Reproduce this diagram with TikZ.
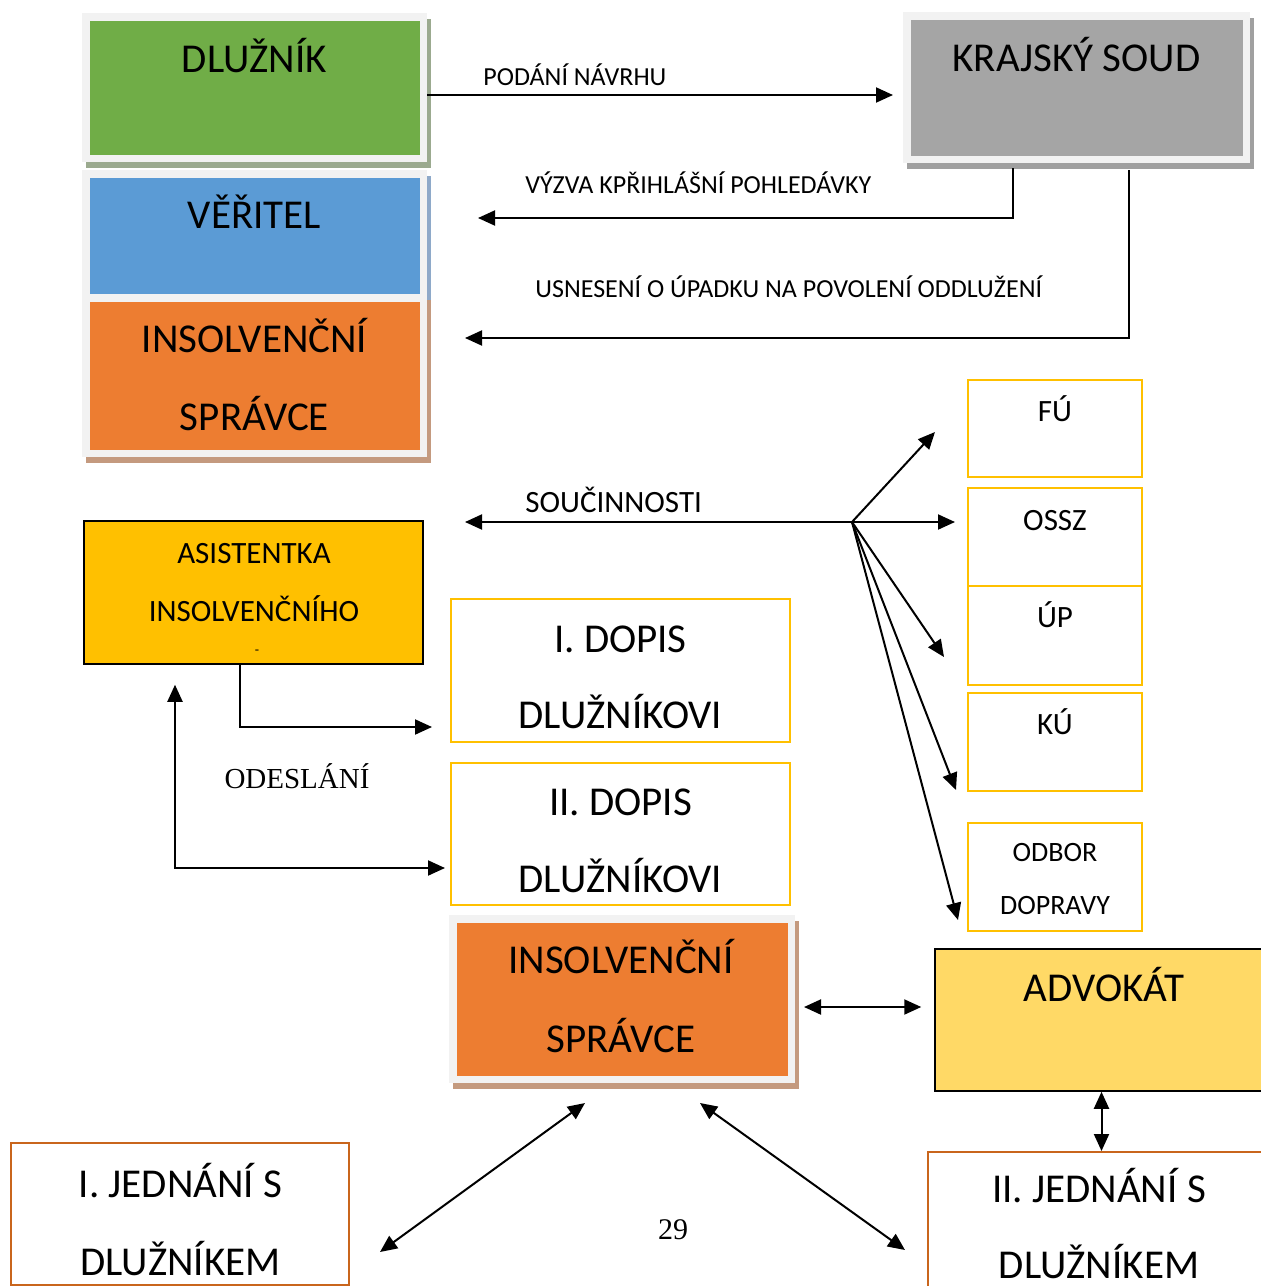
\documentclass[tikz,border=0pt]{standalone}
\usepackage{fontspec}
\setmainfont{Carlito}
\newfontfamily\patkove{Liberation Serif}
\usepackage{tikz}
\usetikzlibrary{arrows.meta}
\usetikzlibrary{shadows}

\definecolor{ramecseda}{HTML}{F2F2F2}
\definecolor{zelena}{HTML}{70AD47}
\definecolor{zelenastin}{HTML}{9BAA8F}
\definecolor{modra}{HTML}{5B9BD5}
\definecolor{modrastin}{HTML}{8EA9C9}
\definecolor{oranzova}{HTML}{ED7D31}
\definecolor{oranzstin}{HTML}{C49A7F}
\definecolor{seda}{HTML}{A5A5A5}
\definecolor{sedastin}{HTML}{A0A0A0}
\definecolor{zlutaobr}{HTML}{FFC000}
\definecolor{asistfill}{HTML}{FFC000}
\definecolor{advfill}{HTML}{FFD966}
\definecolor{oranzobr}{HTML}{C9651C}

\begin{document}
\begin{tikzpicture}[x=0.5pt,y=-0.5pt,
    >={Triangle[length=8.5pt,width=7.5pt]},
    ramec/.style={draw=ramecseda,line width=3.75pt,fill=#1,inner sep=0pt},
    stin/.style={general shadow={fill=#1,draw=#1,line width=3.75pt,shadow xshift=2pt,shadow yshift=-3pt}},
    zluty/.style={draw=zlutaobr,line width=1pt,inner sep=0pt},
    cerny/.style={draw=black,line width=0.75pt,fill=#1,inner sep=0pt},
    oranz/.style={draw=oranzobr,line width=1pt,fill=white,inner sep=0pt},
    sip/.style={line width=1pt},
    velky/.style={font=\fontsize{20.5}{24}\selectfont,anchor=base,inner sep=0pt},
    stredni/.style={font=\fontsize{15.5}{18}\selectfont,anchor=base,inner sep=0pt},
    maly/.style={font=\fontsize{14}{16}\selectfont,anchor=base,inner sep=0pt},
    popis/.style={font=\fontsize{13}{15}\selectfont,anchor=base west,inner sep=0pt},
    patka/.style={font=\patkove\fontsize{15}{18}\selectfont,anchor=base,inner sep=0pt}]

    \useasboundingbox (0,0) rectangle (1261,1286);
    \clip (0,0) rectangle (1261,1286);

    \node[ramec=zelena,stin=zelenastin,minimum width=168.75pt,minimum height=70.75pt] (dl) at (254.5,87.5) {};
    \node[ramec=modra,stin=modrastin,minimum width=168.75pt,minimum height=61.75pt] (ve) at (254.5,235.5) {};
    \node[ramec=oranzova,stin=oranzstin,minimum width=168.75pt,minimum height=77.75pt] (is) at (254.5,375.5) {};
    \node[ramec=seda,stin=sedastin,minimum width=169.75pt,minimum height=71.75pt] (ks) at (1076.5,87.5) {};
    \node[cerny=asistfill,minimum width=169.5pt,minimum height=71.5pt] (as) at (253.5,592.5) {};
    \node[zluty,minimum width=169.5pt,minimum height=71.5pt] (d1) at (620.5,670.5) {};
    \node[zluty,minimum width=169.5pt,minimum height=71pt] (d2) at (620.5,834) {};
    \node[zluty,minimum width=87pt,minimum height=48.5pt] (fu) at (1055,428.5) {};
    \node[zluty,minimum width=87pt,minimum height=49pt] (os) at (1055,537) {};
    \node[zluty,minimum width=87pt,minimum height=49.5pt] (up) at (1055,635.5) {};
    \node[zluty,minimum width=87pt,minimum height=49pt] (ku) at (1055,742) {};
    \node[zluty,minimum width=87pt,minimum height=54pt] (od) at (1055,877) {};
    \node[ramec=oranzova,stin=oranzstin,minimum width=169.25pt,minimum height=80.25pt] (is2) at (622,999) {};
    \node[cerny=advfill,minimum width=177.5pt,minimum height=71pt] (adv) at (1112.5,1020) {};
    \node[oranz,minimum width=169pt,minimum height=71pt] (j1) at (180,1214) {};
    \node[oranz,minimum width=173.5pt,minimum height=74pt] (j2) at (1101.5,1226) {};

    \node[velky] (dlT) at (254.5,72) {DLUŽNÍK};
    \node[velky] (veT) at (254.5,228) {VĚŘITEL};
    \node[velky] (isT1) at (254.5,352) {INSOLVENČNÍ};
    \node[velky] (isT2) at (254.5,430) {SPRÁVCE};
    \node[velky] (ksT) at (1076.5,71) {KRAJSKÝ SOUD};
    \node[stredni] (asT1) at (254,563) {ASISTENTKA};
    \node[stredni] (asT2) at (254,621) {INSOLVENČNÍHO};
    \node[font=\fontsize{7}{8}\selectfont,anchor=base,inner sep=0pt] (asT3) at (257,654) {-};
    \node[velky] (d1T1) at (620.5,652) {I. DOPIS};
    \node[velky] (d1T2) at (620.5,728) {DLUŽNÍKOVI};
    \node[velky] (d2T1) at (620.5,815) {II. DOPIS};
    \node[velky] (d2T2) at (620.5,892) {DLUŽNÍKOVI};
    \node[stredni] (fuT) at (1055,421) {FÚ};
    \node[stredni] (osT) at (1055,530) {OSSZ};
    \node[stredni] (upT) at (1055,627) {ÚP};
    \node[stredni] (kuT) at (1055,734) {KÚ};
    \node[maly] (odT1) at (1055,861) {ODBOR};
    \node[maly] (odT2) at (1055,914) {DOPRAVY};
    \node[velky] (is2T1) at (621,973) {INSOLVENČNÍ};
    \node[velky] (is2T2) at (621,1052) {SPRÁVCE};
    \node[velky] (advT) at (1104,1001) {ADVOKÁT};
    \node[velky] (j1T1) at (180.5,1197) {I. JEDNÁNÍ S};
    \node[velky] (j1T2) at (180.5,1275) {DLUŽNÍKEM};
    \node[velky] (j2T1) at (1099,1202) {II. JEDNÁNÍ S};
    \node[velky] (j2T2) at (1099,1278) {DLUŽNÍKEM};

    \node[popis] (podT) at (483,85) {PODÁNÍ NÁVRHU};
    \node[popis] (vyzT) at (525,193) {VÝZVA KPŘIHLÁŠNÍ POHLEDÁVKY};
    \node[popis] (usnT) at (535,297) {USNESENÍ O ÚPADKU NA POVOLENÍ ODDLUŽENÍ};
    \node[popis,font=\fontsize{15.5}{18}\selectfont] (souT) at (525,512) {SOUČINNOSTI};
    \node[patka,font=\patkove\fontsize{14.5}{17}\selectfont] (odsT) at (297,788) {ODESLÁNÍ};
    \node[patka] (strana) at (673,1239) {29};

    \coordinate (vyzK) at (478,218);
    \coordinate (usnK) at (465,338);
    \coordinate (hub) at (852,522);
    \coordinate (souK) at (465,522);
    \coordinate (fuK) at (935,432);
    \coordinate (osK) at (955,522);
    \coordinate (upK) at (944,657);
    \coordinate (kuK) at (956,790);
    \coordinate (odK) at (958,920);
    \coordinate (l1) at (585,1103);
    \coordinate (l2) at (380,1252);
    \coordinate (p1) at (700,1103);
    \coordinate (p2) at (905,1250);

    \draw[sip,->,shorten >=5pt] ([yshift=-3.75pt]dl.east) -- ([yshift=-3.75pt]ks.west);
    \draw[sip,->,shorten <=2.5pt] ([xshift=-31.75pt]ks.south) |- (vyzK);
    \draw[sip,->,shorten <=3.5pt] ([xshift=26.25pt]ks.south) |- (usnK);
    \draw[sip,->] (hub) -- (souK);
    \draw[sip,->] (hub) -- (fuK);
    \draw[sip,->] (hub) -- (osK);
    \draw[sip,->] (hub) -- (upK);
    \draw[sip,->] (hub) -- (kuK);
    \draw[sip,->] (hub) -- (odK);
    \draw[sip,->,shorten >=9pt] ([xshift=-6.75pt]as.south) |- ([yshift=-28.25pt]d1.west);
    \draw[sip,<->,shorten <=10pt,shorten >=2.5pt] ([xshift=-39.25pt]as.south) |- ([yshift=-17pt]d2.west);
    \draw[sip,<->,shorten <=4.5pt,shorten >=6.5pt] ([yshift=-4pt]is2.east) -- ([yshift=6.5pt]adv.west);
    \draw[sip,<->] (adv.south -| j2.north) -- (j2.north);
    \draw[sip,<->] (l1) -- (l2);
    \draw[sip,<->] (p1) -- (p2);
  \end{tikzpicture}
\end{document}
